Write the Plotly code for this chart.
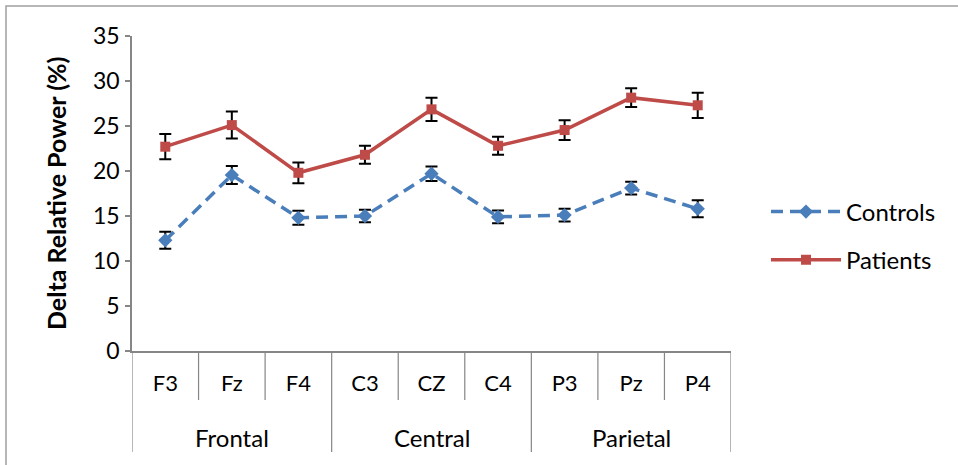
import plotly.graph_objects as go

regions = ["Frontal", "Frontal", "Frontal", "Central", "Central", "Central", "Parietal", "Parietal", "Parietal"]
electrodes = ["F3", "Fz", "F4", "C3", "CZ", "C4", "P3", "Pz", "P4"]

controls = [12.3, 19.55, 14.8, 15.0, 19.7, 14.9, 15.1, 18.1, 15.8]
controls_err = [0.95, 1.0, 0.78, 0.7, 0.8, 0.7, 0.7, 0.7, 0.95]
patients = [22.7, 25.1, 19.8, 21.8, 26.85, 22.8, 24.55, 28.15, 27.3]
patients_err = [1.4, 1.5, 1.15, 1.0, 1.3, 1.0, 1.1, 1.05, 1.4]

y_ticks = [0, 5, 10, 15, 20, 25, 30, 35]

FONT = "Lato"
AX = "#868686"
W, H = 958, 465
L, R, T, B = 132, 227, 36, 114
PW, PH = W - L - R, H - T - B

def px_x(p):
    return (p - L) / PW

def px_y(p):
    return (H - B - p) / PH

xi = list(range(len(electrodes)))

fig = go.Figure()
fig.add_trace(go.Scatter(
    x=xi, y=controls, name="Controls", mode="lines+markers", legendgroup="c",
    line=dict(color="#4a7ebb", width=3.5, dash="12px,7px"),
    marker=dict(symbol="diamond", size=11, color="#4a7ebb"),
    error_y=dict(type="data", array=controls_err, visible=True, color="black", thickness=2, width=6),
))
fig.add_trace(go.Scatter(
    x=xi, y=patients, name="Patients", mode="lines+markers", legendgroup="p",
    line=dict(color="#be4b48", width=3.5),
    marker=dict(symbol="square", size=10, color="#be4b48"),
    error_y=dict(type="data", array=patients_err, visible=True, color="black", thickness=2, width=6),
))

shapes = [dict(type="rect", xref="paper", yref="paper",
               x0=px_x(6), x1=px_x(1100), y0=px_y(600), y1=px_y(6),
               line=dict(color="#a0a0a0", width=1.5), layer="below")]
group_edges = set()
prev = None
for i, g in enumerate(regions):
    if g != prev:
        group_edges.add(i)
    prev = g
group_edges.add(len(regions))
for i in range(len(electrodes) + 1):
    y_end = px_y(452) if i in group_edges else px_y(400)
    shapes.append(dict(type="line", xref="x", yref="paper", x0=i - 0.5, x1=i - 0.5,
                       y0=0, y1=y_end, line=dict(color=AX, width=1.2)))

annotations = []
seen = []
for g in regions:
    if g not in seen:
        seen.append(g)
for g in seen:
    idx = [i for i, r in enumerate(regions) if r == g]
    annotations.append(dict(x=sum(idx) / len(idx), y=px_y(437), xref="x", yref="paper",
                            yanchor="middle", text=g, showarrow=False,
                            font=dict(size=24, family=FONT)))
annotations.append(dict(x=px_x(56), y=px_y(194), xref="paper", yref="paper",
                        xanchor="center", yanchor="middle",
                        text="<b>Delta Relative Power (%)</b>", textangle=-90,
                        showarrow=False, font=dict(size=25, family=FONT)))

fig.update_layout(
    width=W, height=H,
    margin=dict(l=L, r=R, t=T, b=B, autoexpand=False),
    paper_bgcolor="white", plot_bgcolor="white",
    font=dict(family=FONT, size=22, color="black"),
    showlegend=True,
    legend=dict(x=px_x(766), y=px_y(236), xanchor="left", yanchor="middle",
                font=dict(size=24), tracegroupgap=14, itemwidth=70),
    shapes=shapes, annotations=annotations,
)
fig.update_yaxes(
    range=[0, 35], tickvals=y_ticks, showgrid=False, zeroline=False, automargin=False,
    showline=True, linecolor=AX, linewidth=1.5,
    ticks="outside", ticklen=5, tickcolor=AX, tickwidth=1.5, ticklabelstandoff=1,
    tickfont=dict(size=23),
)
fig.update_xaxes(
    range=[-0.5, len(electrodes) - 0.5], tickvals=xi, ticktext=electrodes,
    showgrid=False, zeroline=False, automargin=False,
    showline=True, linecolor=AX, linewidth=1.5, ticks="", ticklabelstandoff=12,
    tickfont=dict(size=22),
)

fig.write_html("out.html", config={"displayModeBar": False},
               post_script="document.body.style.margin='0px';")
